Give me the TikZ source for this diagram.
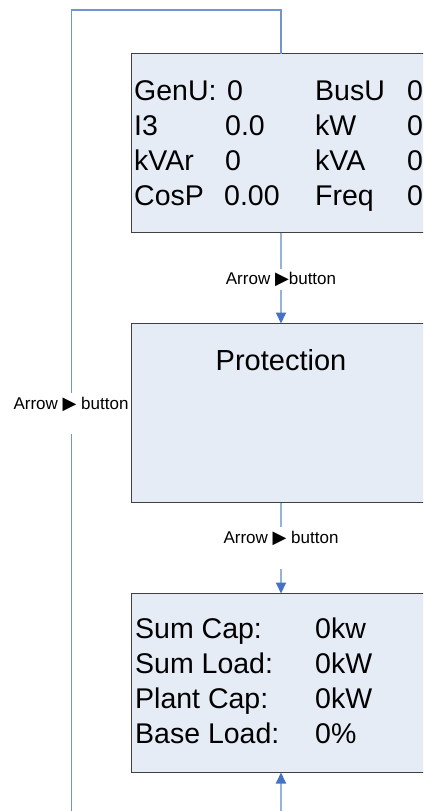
\documentclass[tikz,border=0pt]{standalone}
\usepackage{fontspec}
\setmainfont{Liberation Sans}
\newfontfamily\symfont{DejaVu Sans}
\usetikzlibrary{arrows.meta}
\definecolor{boxfill}{RGB}{230,236,246}
\definecolor{boxline}{RGB}{64,64,64}
\definecolor{linkblue}{RGB}{149,179,215}
\definecolor{backblue}{RGB}{112,150,208}
\definecolor{tipblue}{RGB}{68,114,196}
\newcommand{\btntri}{{\symfont\fontsize{18}{18}\selectfont ▶}}
\tikzset{
  screen/.style={draw=boxline,fill=boxfill,line width=1.3pt,minimum width=299pt,
    minimum height=179pt,anchor=north west,inner sep=0pt,outer sep=0pt},
  readout/.style={anchor=base west,inner sep=0pt,font=\fontsize{28.5}{34}\selectfont},
  btnlabel/.style={anchor=base,inner sep=0pt,font=\fontsize{17}{20}\selectfont},
  link/.style={draw=linkblue,line width=2pt},
  backlink/.style={draw=backblue,line width=1.3pt},
  tip/.style={-{Triangle[length=11pt,width=10pt,color=tipblue]}}
}
\begin{document}
\begin{tikzpicture}[x=1pt,y=-1pt]
 \clip (0,0) rectangle (423,811);
 \fill[white] (0,0) rectangle (423,811);
 % the three screens
 \node[screen] (meas) at (131.5,53.5) {};
 \node[screen] (prot) at (131.5,323.5) {};
 \node[screen] (plant) at (131.5,593.5) {};
 % measurement screen
 \foreach \name/\val/\vx/\y in {GenU:/0/227/100, I3/0.0/225/135, kVAr/0/225/170, CosP/0.00/224/205}
  {\node[readout] (ml\y) at (134,\y) {\name};
   \node[readout] (mv\y) at (\vx,\y) {\val};}
 \foreach \name/\y in {BusU/100, kW/135, kVA/170, Freq/205}
  {\node[readout] (rl\y) at (315,\y) {\name};
   \node[readout] (rv\y) at (407,\y) {0};}
 % protection screen
 \node[anchor=base,inner sep=0pt,font=\fontsize{29}{34}\selectfont] (prottitle) at (281,370) {Protection};
 % plant screen
 \foreach \name/\val/\y in {Sum Cap:/0kw/638, Sum Load:/0kW/673, Plant Cap:/0kW/708, Base Load:/0\%/743}
  {\node[readout] (pl\y) at (135,\y) {\name};
   \node[readout] (pv\y) at (315,\y) {\val};}
 % labels on the links
 \node[btnlabel,text height=15pt,text depth=6pt] (lab1) at (281,284) {Arrow \btntri button};
 \node[btnlabel,text height=16pt,text depth=26pt] (lab2) at (281,543) {Arrow \btntri\ button};
 \node[btnlabel,text height=16pt,text depth=25pt] (lab3) at (71,409) {Arrow \btntri\ button};
 \coordinate (backstart) at (71.5,811);
 \coordinate (backtop) at (71.5,10);
 \coordinate (inbottom) at (281,811);
 % links
 \draw[link] (meas.south) -- (lab1.north);
 \draw[link,tip] (lab1.south) -- (prot.north);
 \draw[link] (prot.south) -- (lab2.north);
 \draw[link,tip] (lab2.south) -- (plant.north);
 \draw[link,tip] (inbottom) -- (plant.south);
 \draw[backlink] (backstart) -- (backstart |- lab3.south);
 \draw[backlink] (backstart |- lab3.north) -- (backtop) -| (meas.north);
\end{tikzpicture}
\end{document}
